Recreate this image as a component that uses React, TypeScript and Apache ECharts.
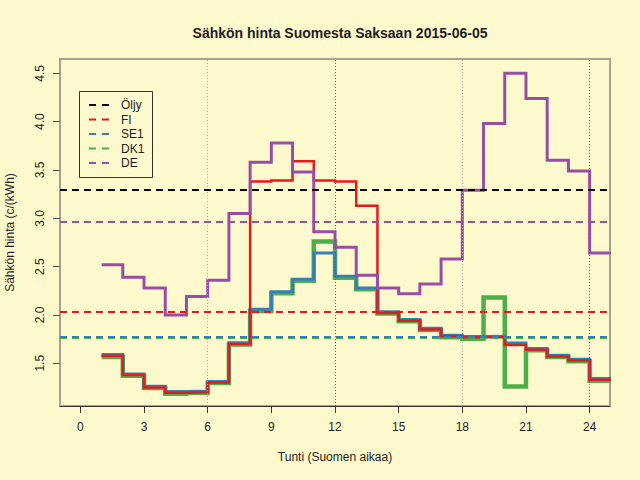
import React, { useEffect, useRef } from "react";
import * as echarts from "echarts";

const hours = [1, 2, 3, 4, 5, 6, 7, 8, 9, 10, 11, 12, 13, 14, 15, 16, 17, 18, 19, 20, 21, 22, 23, 24];
const fi = [1.578, 1.378, 1.25, 1.195, 1.2, 1.3, 1.7, 3.38, 3.39, 3.59, 3.39, 3.38, 3.13, 2.02, 1.94, 1.85, 1.78, 1.77, 1.77, 1.69, 1.64, 1.57, 1.53, 1.33];
const se1 = [1.59, 1.39, 1.262, 1.208, 1.212, 1.312, 1.712, 2.06, 2.24, 2.37, 2.64, 2.4, 2.28, 2.032, 1.952, 1.862, 1.79, 1.776, 1.78, 1.71, 1.652, 1.582, 1.542, 1.342];
const dk1 = [1.565, 1.37, 1.245, 1.185, 1.195, 1.295, 1.695, 2.04, 2.225, 2.355, 2.76, 2.385, 2.265, 2.015, 1.935, 1.845, 1.77, 1.755, 2.18, 1.26, 1.635, 1.565, 1.52, 1.32];
const de = [2.52, 2.39, 2.28, 2.0, 2.19, 2.36, 3.05, 3.58, 3.78, 3.48, 2.86, 2.7, 2.41, 2.28, 2.22, 2.32, 2.58, 3.29, 3.98, 4.5, 4.24, 3.6, 3.49, 2.64];

const refNames = ["Öljy", "FI", "SE1", "DK1", "DE"];
const refLevels = [3.3, 2.03, 1.768, 1.762, 2.96];
const refColors = ["#000000", "#E41A1C", "#377EB8", "#4DAF4A", "#984EA3"];

const xTicks = [0, 3, 6, 9, 12, 15, 18, 21, 24];
const yTicks = [1.5, 2.0, 2.5, 3.0, 3.5, 4.0, 4.5];
const dottedHours = [6, 12, 18, 24];
const dottedColors = ["#a8a8a0", "#606060", "#a8a8a0", "#606060"];

const FONT = "Liberation Sans, Arial, Helvetica, sans-serif";
const TEXT = "#221c22";

function stepData(vals: number[]) {
  const d: number[][] = hours.map((h, i) => [h, vals[i]]);
  d.push([hours[hours.length - 1] + 1, vals[vals.length - 1]]);
  return d;
}

function refLine(i: number) {
  return {
    yAxis: refLevels[i],
    lineStyle: { color: refColors[i], type: [7, 5], width: 2 },
  };
}

export default function App() {
  const ref = useRef<HTMLDivElement>(null);
  useEffect(() => {
    if (!ref.current) return;
    const chart = echarts.init(ref.current, undefined, { renderer: "svg" });

    const mlBase = {
      symbol: ["none", "none"],
      silent: true,
      animation: false,
      label: { show: false },
      emphasis: { disabled: true },
    };

    const stepSeries = (name: string, vals: number[], color: string, width: number, extraMarks: any[]) => ({
      name,
      type: "line",
      step: "end",
      data: stepData(vals),
      showSymbol: false,
      symbol: "none",
      clip: true,
      lineStyle: { color, width, cap: "butt", join: "miter" },
      itemStyle: { color },
      emphasis: { disabled: true },
      markLine: { ...mlBase, data: extraMarks },
    });

    const legendTop = 91;
    const rowH = 14.5;
    const legendGraphics: any[] = [
      {
        type: "rect",
        shape: { x: 79.5, y: 91.5, width: 73, height: 86 },
        style: { fill: "none", stroke: "#333333", lineWidth: 1 },
      },
    ];
    refNames.forEach((n, i) => {
      const y = legendTop + 14 + i * rowH;
      legendGraphics.push({
        type: "line",
        shape: { x1: 89, y1: y, x2: 109, y2: y },
        style: { stroke: refColors[i], lineWidth: 2, lineDash: [7, 6] },
      });
      legendGraphics.push({
        type: "text",
        x: 121,
        y: y,
        style: {
          text: n,
          fill: TEXT,
          font: `12px ${FONT}`,
          verticalAlign: "middle",
          align: "left",
        },
      });
    });

    chart.setOption({
      animation: false,
      backgroundColor: "#FFFACD",
      title: {
        text: "Sähkön hinta Suomesta Saksaan 2015-06-05",
        left: 335,
        top: 21,
        textAlign: "center",
        textStyle: { fontFamily: FONT, fontSize: 14, fontWeight: "bold", color: TEXT },
      },
      grid: {
        left: 60,
        right: 30,
        top: 59,
        bottom: 74,
        show: true,
        borderColor: "#a8a290",
        borderWidth: 2,
        backgroundColor: "transparent",
        containLabel: false,
        outerBoundsMode: "none",
      },
      xAxis: {
        type: "value",
        min: -0.96,
        max: 24.96,
        name: "Tunti (Suomen aikaa)",
        nameLocation: "middle",
        nameGap: 45,
        nameTextStyle: { fontFamily: FONT, fontSize: 12, color: TEXT },
        axisLine: { show: true, onZero: false, lineStyle: { color: "#3a3234", width: 1 } },
        axisTick: { show: true, customValues: xTicks, length: 7, lineStyle: { color: "#3a3234" } },
        axisLabel: { customValues: xTicks, margin: 15, fontFamily: FONT, fontSize: 12, color: TEXT },
        splitLine: { show: false },
      },
      yAxis: {
        type: "value",
        min: 1.058,
        max: 4.648,
        name: "Sähkön hinta (c/(kWh)",
        nameLocation: "middle",
        nameGap: 44,
        nameRotate: 90,
        nameTextStyle: { fontFamily: FONT, fontSize: 12, color: TEXT },
        axisLine: { show: false, onZero: false },
        axisTick: { show: true, customValues: yTicks, length: 7, lineStyle: { color: "#555050" } },
        axisLabel: {
          customValues: yTicks,
          rotate: 90,
          margin: 14,
          fontFamily: FONT,
          fontSize: 12,
          color: TEXT,
          formatter: (v: number) => v.toFixed(1),
        },
        splitLine: { show: false },
      },
      graphic: legendGraphics,
      series: [
        stepSeries("DK1 tunti", dk1, refColors[3], 4.5, [
          ...dottedHours.map((h, i) => ({
            xAxis: h,
            lineStyle: { color: dottedColors[i], type: [1, 2], width: 1 },
          })),
          refLine(0),
          refLine(3),
        ]),
        stepSeries("SE1 tunti", se1, refColors[2], 3, [refLine(2)]),
        stepSeries("FI tunti", fi, refColors[1], 2.5, [refLine(1)]),
        stepSeries("DE tunti", de, refColors[4], 3, [refLine(4)]),
      ],
    });
    return () => chart.dispose();
  }, []);
  return (
    <div
      ref={ref}
      style={{ position: "fixed", left: 0, top: 0, width: 640, height: 480, background: "#FFFACD" }}
    />
  );
}
